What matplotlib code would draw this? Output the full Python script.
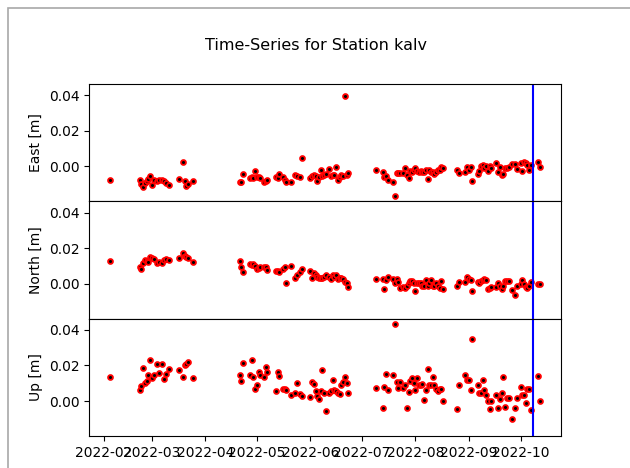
import numpy as np
import pandas as pd
import matplotlib
matplotlib.use("Agg")
import matplotlib.pyplot as plt
from matplotlib.patches import Rectangle

STATION = "kalv"
YEAR = 2022

# day of year of each daily solution
doy = [
    36,
    53, 54, 55, 56, 57, 58, 59, 60, 61, 63, 64, 66, 67, 68, 70,
    76, 78, 79, 80, 81, 84,
    111, 112, 113, 117, 118, 119, 120, 121, 122, 123, 125, 126, 127,
    132, 133, 134, 136, 137, 138, 141, 143, 144, 146, 147,
    152, 153, 154, 155, 156, 157, 158, 159,
    160, 161, 163, 164, 165, 166, 167, 168, 169, 170, 171, 172, 173, 174,
    190, 194, 195, 196, 197, 200, 201, 202, 203, 204, 206, 207, 208, 209,
    210, 211, 212, 213, 214, 215, 216, 217, 218, 219, 220, 221, 222, 223,
    224, 225, 226, 227, 228, 229,
    237, 238, 242, 243, 244, 245, 246, 249, 250, 251, 252, 253, 254, 255,
    256, 257, 260, 261, 262, 263, 264, 265, 266, 267, 269, 271, 272, 274,
    275, 276, 277, 278, 279, 280, 284, 285,
]

east = [
    -0.0074,
    -0.0075, -0.0097, -0.0117, -0.0091, -0.0080, -0.0069, -0.0056, -0.0106,
    -0.0075, -0.0082, -0.0075, -0.0078, -0.0082, -0.0091, -0.0106,
    -0.0069, 0.0023, -0.0080, -0.0112, -0.0097, -0.0084,
    -0.0086, -0.0086, -0.0043, -0.0065, -0.0060, -0.0065, -0.0024, -0.0060,
    -0.0062, -0.0065, -0.0089, -0.0084, -0.0075,
    -0.0060, -0.0065, -0.0043, -0.0061, -0.0078, -0.0086, -0.0086,
    -0.0047, -0.0056, -0.0060, 0.0047,
    -0.0065, -0.0056, -0.0047, -0.0055, -0.0080, -0.0060, -0.0020, -0.0056,
    -0.0047, -0.0043, -0.0015, -0.0056, -0.0047, -0.0047, -0.0005, -0.0075,
    -0.0060, -0.0050, -0.0056, 0.0396, -0.0050, -0.0037,
    -0.0022, -0.0032, -0.0060, -0.0052, -0.0074, -0.0086, -0.0166, -0.0037,
    -0.0037, -0.0037, -0.0037, -0.0011, -0.0050, -0.0065, -0.0024, -0.0033,
    -0.0020, -0.0009, -0.0025, -0.0033, -0.0024, -0.0033, -0.0033, -0.0018,
    -0.0071, -0.0022, -0.0032, -0.0032, -0.0041, -0.0033, -0.0018, -0.0018,
    -0.0004, -0.0007,
    -0.0018, -0.0037, -0.0033, -0.0004, -0.0018, -0.0005, -0.0084, -0.0041,
    -0.0028, 0.0004, 0.0010, -0.0009, 0.0004, -0.0028, 0.0000, -0.0009,
    0.0019, -0.0033, -0.0004, -0.0046, -0.0041, -0.0009, -0.0009, -0.0004,
    0.0013, 0.0011, -0.0015, 0.0019, -0.0028, 0.0023, 0.0019, 0.0010,
    -0.0018, 0.0010, 0.0023, -0.0004,
]

north = [
    0.0126,
    0.0096, 0.0082, 0.0118, 0.0133, 0.0129, 0.0124, 0.0148, 0.0143,
    0.0137, 0.0114, 0.0120, 0.0114, 0.0133, 0.0137, 0.0133,
    0.0143, 0.0171, 0.0156, 0.0152, 0.0143, 0.0124,
    0.0126, 0.0094, 0.0066, 0.0113, 0.0105, 0.0109, 0.0099, 0.0081,
    0.0090, 0.0094, 0.0094, 0.0094, 0.0077,
    0.0071, 0.0071, 0.0066, 0.0081, 0.0094, 0.0005, 0.0099,
    0.0030, 0.0047, 0.0066, 0.0084,
    0.0071, 0.0032, 0.0058, 0.0047, 0.0039, 0.0032, 0.0035, 0.0030,
    0.0040, 0.0047, 0.0039, 0.0028, 0.0047, 0.0039, 0.0047, 0.0024,
    0.0034, 0.0034, 0.0024, 0.0009, 0.0002, -0.0017,
    0.0028, 0.0028, -0.0027, 0.0019, 0.0039, 0.0028, 0.0005, 0.0024,
    0.0010, -0.0023, -0.0017, -0.0023, -0.0010, 0.0005, 0.0013, 0.0015,
    0.0005, -0.0041, 0.0005, 0.0002, 0.0005, -0.0010, -0.0010, 0.0019,
    -0.0010, 0.0002, 0.0019, -0.0013, -0.0010, 0.0002, -0.0013, -0.0021,
    0.0013, -0.0028,
    -0.0010, 0.0009, 0.0011, 0.0037, 0.0028, 0.0020, -0.0042, 0.0009,
    0.0002, 0.0015, 0.0019, 0.0024, 0.0019, -0.0032, -0.0023, -0.0017,
    -0.0017, 0.0005, -0.0013, -0.0032, -0.0010, 0.0015, 0.0015, 0.0013,
    -0.0036, -0.0064, -0.0010, 0.0000, 0.0019, 0.0000, -0.0017, -0.0023,
    -0.0010, 0.0009, -0.0004, -0.0004,
]

up = [
    0.0134,
    0.0063, 0.0084, 0.0187, 0.0099, 0.0112, 0.0149, 0.0230, 0.0127,
    0.0149, 0.0209, 0.0160, 0.0209, 0.0123, 0.0155, 0.0181,
    0.0177, 0.0134, 0.0205, 0.0209, 0.0220, 0.0129,
    0.0149, 0.0112, 0.0213, 0.0149, 0.0230, 0.0134, 0.0069, 0.0093,
    0.0162, 0.0147, 0.0134, 0.0190, 0.0166,
    0.0054, 0.0162, 0.0140, 0.0069, 0.0067, 0.0063, 0.0033,
    0.0047, 0.0103, 0.0041, 0.0030,
    0.0022, 0.0110, 0.0097, 0.0056, 0.0028, 0.0013, 0.0056, 0.0172,
    0.0047, -0.0058, 0.0045, 0.0054, 0.0116, 0.0060, 0.0054, 0.0047,
    0.0041, 0.0093, 0.0110, 0.0134, 0.0100, 0.0048,
    0.0074, -0.0037, 0.0082, 0.0153, 0.0063, 0.0147, 0.0433, 0.0106,
    0.0074, 0.0106, 0.0074, 0.0093, -0.0037, 0.0049, 0.0115, 0.0130,
    0.0100, 0.0060, 0.0129, 0.0093, 0.0093, 0.0097, 0.0004, 0.0060,
    0.0181, 0.0091, 0.0091, 0.0134, 0.0091, 0.0069, 0.0056, 0.0069,
    0.0069, 0.0000,
    -0.0043, 0.0091, 0.0149, 0.0116, 0.0116, 0.0060, 0.0349, 0.0088,
    0.0046, 0.0046, 0.0121, 0.0060, 0.0037, 0.0000, -0.0043, 0.0000,
    0.0032, -0.0037, 0.0013, 0.0046, 0.0134, -0.0034, 0.0017, 0.0017,
    -0.0103, -0.0039, 0.0017, 0.0078, 0.0035, 0.0037, -0.0011, 0.0069,
    0.0069, -0.0049, 0.0140, 0.0000,
]

components = ["East", "North", "Up"]
event_time = "2022-10-08 10:00"


def main():
    t = pd.to_datetime(f"{YEAR}-01-01") + pd.to_timedelta(np.array(doy) - 1, unit="D")
    series = {"East": east, "North": north, "Up": up}

    W, H = 630, 468
    fig, axes = plt.subplots(3, 1, sharex=True, sharey=True, figsize=(W / 100, H / 100), dpi=100)
    fig.subplots_adjust(left=89 / W, right=561 / W, top=1 - 84 / H, bottom=1 - 436 / H, hspace=0)

    # frame around the figure
    fig.add_artist(Rectangle((7.5 / W, -0.1), 1.2, 1.1 - 8.5 / H, transform=fig.transFigure,
                             fill=False, edgecolor="#a8a8a8", linewidth=1.2))

    fig.text(316 / W, 1 - 45 / H, f"Time-Series for Station {STATION}",
             ha="center", va="center", fontsize=11.5)

    for ax, comp in zip(axes, components):
        ax.plot(t, series[comp], "o", ls="none", ms=3.5, mfc="k", mec="r", mew=1.3)
        ax.axvline(pd.Timestamp(event_time), color="b")
        ax.set_ylabel(f"{comp} [m]")

    for ax in axes[:-1]:
        ax.tick_params(axis="x", bottom=False)

    fig.savefig("out.png", dpi=100)
    plt.close(fig)


if __name__ == "__main__":
    main()
